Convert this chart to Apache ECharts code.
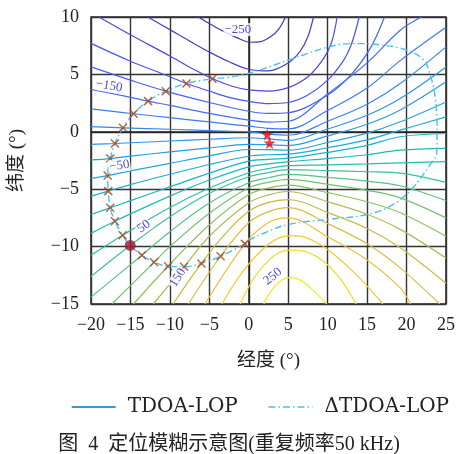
<!DOCTYPE html>
<html>
<head>
<meta charset="utf-8">
<script src="https://cdn.jsdelivr.net/npm/echarts@6/dist/echarts.min.js"></script>
<style>
  html, body { margin: 0; padding: 0; background: #fff; }
  #chart { width: 458px; height: 454px; }
</style>
</head>
<body>
<div id="chart"></div>
<script>
const levels = [-250, -230, -210, -190, -170, -150, -130, -110, -90, -70, -50, -30, -10,
                10, 30, 50, 70, 90, 110, 130, 150, 170, 190, 210, 230, 250];

const tdoaM250 = [[-6.5,10.05],[-4.8,9.35],[-3.2,8.75],[-1.5,8.2],[0.2,7.8],[1.5,7.85],[2.8,8.3],[3.8,8.95],[4.6,9.9],[4.75,10.1]];
const tdoaM230 = [[-12.8,10],[-10,8.9],[-7.5,7.9],[-5,6.95],[-2.5,6.1],[0,5.45],[2.5,5.3],[5,6.0],[6.5,7.0],[7.5,8.3],[8.2,10]];
const tdoaM210 = [[-19,10],[-15,8.45],[-10,6.6],[-7,5.45],[-4.6,4.62],[-2,3.95],[0,3.65],[2.5,3.55],[5,3.85],[7.5,4.8],[9.5,6.4],[10.5,7.8],[11.2,10]];
const tdoaM190 = [[-20,7.7],[-15,6.15],[-10,4.8],[-7.9,4.21],[-5,3.55],[-2.5,3.0],[0,2.65],[2.5,2.45],[5,2.55],[7.5,3.2],[10,4.5],[12,6.2],[13,7.6],[14,10]];
const tdoaM170 = [[-20,5.65],[-15,4.5],[-10.52,3.54],[-5,2.55],[0,1.79],[2.5,1.6],[5,1.66],[10,3.2],[13,5.0],[15.5,7.4],[17.2,10]];
const tdoaM150 = [[-20,3.7],[-16,3.15],[-12.76,2.67],[-10,2.3],[-5,1.6],[0,1.01],[2.5,0.85],[5,0.92],[10,3.3],[15,6.0],[19.2,8.85],[21.9,10]];
const tdoaM130 = [[-20,2.0],[-14.6,1.57],[-10,1.23],[-5,0.86],[0,0.49],[2.5,0.3],[5,0.25],[10,1.86],[15,3.82],[19.2,6.2],[25,9.1]];
const tdoaM110 = [[-20,0.45],[-15.95,0.35],[-10,0.22],[-5,0.1],[0,0],[2.5,-0.2],[5,-0.3],[10,0.92],[15,2.4],[19.2,4.2],[25,7.4]];
const tdoaM90  = [[-20,-1.1],[-16.97,-1.02],[-10,-0.8],[-5,-0.65],[0,-0.52],[2.5,-0.62],[5,-0.75],[10,0.24],[15,1.44],[19.2,2.9],[25,5.65]];
const tdoaM70  = [[-20,-2.45],[-17.56,-2.33],[-15,-2.12],[-10,-1.75],[-5,-1.4],[0,-1.1],[2.5,-1.12],[5,-1.2],[10,-0.36],[15,0.66],[19.2,1.9],[25,4.35]];
const tdoaM50  = [[-20,-4.06],[-17.89,-3.81],[-15,-3.4],[-10,-2.75],[-5,-2.1],[0,-1.54],[2.5,-1.55],[5,-1.6],[10,-0.93],[15,-0.12],[19.2,0.87],[25,2.6]];
const tdoaM30  = [[-20,-5.6],[-17.81,-5.17],[-15,-4.6],[-10,-3.7],[-5,-2.85],[0,-2.13],[2.5,-2.0],[5,-1.95],[10,-1.39],[15,-0.7],[19.2,0.14],[25,1.3]];
const tdoaM10  = [[-20,-7.2],[-17.56,-6.62],[-15,-6.0],[-10,-4.8],[-5,-3.6],[0,-2.56],[2.5,-2.4],[5,-2.3],[10,-1.8],[15,-1.18],[19.2,-0.43],[25,-0.15]];
const tdoaP10  = [[-20,-8.85],[-16.97,-7.79],[-15,-7.15],[-10,-5.6],[-5,-4.2],[0,-3.05],[2.5,-2.8],[5,-2.6],[10,-2.33],[15,-2.0],[19.2,-1.6],[25,-1.45]];
const tdoaP30  = [[-20,-10.75],[-15.99,-9.01],[-10,-6.6],[-5,-4.9],[0,-3.57],[2.5,-3.2],[5,-2.95],[10,-2.88],[15,-2.8],[19.2,-2.7],[25,-2.6]];
const tdoaP50  = [[-20,-12.6],[-15.03,-9.9],[-10,-7.4],[-5,-5.35],[0,-3.92],[2.5,-3.55],[5,-3.3],[10,-3.38],[15,-3.48],[19.2,-3.6],[25,-4.4]];
const tdoaP70  = [[-20,-14.4],[-13.55,-10.75],[-10,-8.7],[-5,-6.2],[0,-4.44],[2.5,-4.0],[5,-3.7],[10,-3.97],[15,-4.3],[19.2,-4.7],[25,-6.0]];
const tdoaP90  = [[-17.35,-15],[-12,-11.36],[-10,-10.0],[-5,-7.1],[0,-4.88],[2.5,-4.4],[5,-4.15],[10,-4.58],[15,-5.1],[19.2,-5.75],[25,-7.5]];
const tdoaP110 = [[-14.6,-15],[-10.23,-11.71],[-5,-8.1],[0,-5.46],[2.5,-4.9],[5,-4.65],[10,-5.3],[15,-6.09],[19.2,-7.05],[25,-9.1]];
const tdoaP130 = [[-12.1,-15],[-8.2,-11.76],[-5,-9.1],[0,-6.18],[2.5,-5.5],[5,-5.2],[10,-6.09],[15,-7.18],[19.2,-8.5],[25,-11.0]];
const tdoaP150 = [[-9.6,-15],[-6,-11.47],[-3,-8.9],[0,-6.92],[2.5,-6.15],[5,-5.9],[10,-7.03],[15,-8.42],[19.2,-10.1],[25,-13.2]];
const tdoaP170 = [[-7.65,-15],[-3.57,-10.84],[0,-7.9],[2.5,-6.95],[5,-6.6],[10,-8.0],[15,-9.75],[19.2,-11.85],[24.2,-15]];
const tdoaP190 = [[-5.55,-15],[-0.49,-9.76],[2.5,-7.9],[5,-7.5],[10,-9.15],[15,-11.16],[19.2,-13.6],[20.5,-15]];
const tdoaP210 = [[-3.4,-15],[-1,-12.4],[1.5,-10.4],[4,-9.2],[6,-9.05],[8.5,-9.6],[11,-10.8],[14,-12.7],[17,-15]];
const tdoaP230 = [[-1.1,-15],[0.8,-12.6],[3,-10.9],[5,-10.3],[7,-10.4],[9.5,-11.3],[11.7,-12.9],[13.6,-15]];
const tdoaP250 = [[1.9,-15],[2.9,-13.8],[4,-13.0],[5.2,-12.7],[6.5,-12.9],[8,-13.7],[9.9,-15]];

// ΔTDOA line of position (closed loop) [lon, lat]
const deltaTdoaLoop = [[-0.49,-9.76],[-3.57,-10.84],[-6.0,-11.47],[-8.2,-11.76],[-10.23,-11.71],[-12.0,-11.36],
  [-13.55,-10.75],[-15.03,-9.9],[-15.99,-9.01],[-16.97,-7.79],[-17.56,-6.62],[-17.81,-5.17],[-17.89,-3.81],
  [-17.56,-2.33],[-16.97,-1.02],[-15.95,0.35],[-14.6,1.57],[-12.76,2.67],[-10.52,3.54],[-7.9,4.21],[-4.61,4.62],
  [-2.72,4.73],[0.23,5.14],[5.28,6.3],[10.34,7.43],[13.5,7.69],[16.28,7.6],[19.82,7.17],[22.1,6.3],[22.98,4.99],
  [23.61,3.08],[23.86,0.64],[23.83,-1.8],[22.98,-2.85],[20.83,-4.85],[18.31,-6.33],[15.02,-7.2],[10.09,-7.63],
  [5.03,-8.07],[2.12,-8.77],[0.23,-9.38],[-0.49,-9.76]];

// ambiguous positions where the ΔTDOA loop meets the TDOA lines
const ambiguityPoints = [[-4.61,4.62],[-7.9,4.21],[-10.52,3.54],[-12.76,2.67],[-14.6,1.57],[-15.95,0.35],
  [-16.97,-1.02],[-17.56,-2.33],[-17.89,-3.81],[-17.81,-5.17],[-17.56,-6.62],[-16.97,-7.79],[-15.99,-9.01],
  [-13.55,-10.75],[-12.0,-11.36],[-10.23,-11.71],[-8.2,-11.76],[-6.0,-11.47],[-3.57,-10.84],[-0.49,-9.76]];
const truePosition = [[-15.03,-9.9]];
const stationPoints = [[2.34,-0.24],[2.63,-0.97]];

// inline contour labels: [lon, lat, text]
const contourLabels = [[-1.4,8.9,'\u2212250'],[-17.7,4.0,'\u2212150'],[-16.4,-2.95,'\u221250'],
  [-13.3,-8.25,'50'],[-9.0,-12.7,'150'],[3.05,-12.6,'250']];
const contourLabelAngles = [0, -10, 8, 35, 58, 40];

const xTicks = [-20, -15, -10, -5, 0, 5, 10, 15, 20, 25];
const yTicks = [-15, -10, -5, 0, 5, 10];

const contourLines = [tdoaM250, tdoaM230, tdoaM210, tdoaM190, tdoaM170, tdoaM150, tdoaM130, tdoaM110,
  tdoaM90, tdoaM70, tdoaM50, tdoaM30, tdoaM10, tdoaP10, tdoaP30, tdoaP50, tdoaP70, tdoaP90, tdoaP110,
  tdoaP130, tdoaP150, tdoaP170, tdoaP190, tdoaP210, tdoaP230, tdoaP250];

// parula-like colour ramp
const ramp = [[72,52,180],[76,80,232],[66,110,250],[48,142,240],[28,168,220],[20,184,196],
              [56,194,156],[128,194,104],[196,188,66],[248,190,60],[244,236,30]];
function rampColor(t) {
  const p = t * (ramp.length - 1);
  const i = Math.min(Math.floor(p), ramp.length - 2);
  const f = p - i;
  const c = ramp[i].map((v, k) => Math.round(v + (ramp[i + 1][k] - v) * f));
  return 'rgb(' + c.join(',') + ')';
}

const serif = 'Liberation Serif, DejaVu Serif, Noto Sans CJK SC, serif';
const minus = v => String(v).replace('-', '\u2212');

const series = [];
contourLines.forEach((pts, i) => {
  const t = (levels[i] - levels[0]) / (levels[levels.length - 1] - levels[0]);
  series.push({
    name: 'TDOA-LOP', type: 'line', data: pts, smooth: 0.35, symbol: 'none', silent: true,
    lineStyle: { color: rampColor(t), width: 1.2 }, itemStyle: { color: '#0072BD' }, z: 2
  });
});
series.push({
  name: '\u0394TDOA-LOP', type: 'line', data: deltaTdoaLoop, smooth: 0.4, symbol: 'none', silent: true,
  lineStyle: { color: '#4DBEEE', width: 1.4, type: [7, 3, 1.5, 3] }, itemStyle: { color: '#4DBEEE' }, z: 3
});
series.push({
  type: 'scatter', data: ambiguityPoints, silent: true, z: 4,
  symbol: 'path://M0,0L10,10M10,0L0,10', symbolSize: 8,
  itemStyle: { color: 'none', borderColor: '#A4431C', borderWidth: 1.5 }
});
series.push({
  type: 'scatter', data: truePosition, silent: true, z: 5, symbol: 'circle', symbolSize: 11,
  itemStyle: { color: '#A2142F' }
});
series.push({
  type: 'scatter', data: stationPoints, silent: true, z: 5, symbol: 'path://M50,0L61,35L98,35L68,57L79,91L50,70L21,91L32,57L2,35L39,35Z',
  symbolSize: 12, itemStyle: { color: '#FF0000' }
});
series.push({
  type: 'scatter', silent: true, z: 6, symbolSize: 2, itemStyle: { color: 'rgba(255,255,255,0)' },
  data: contourLabels.map((d, i) => ({ value: [d[0], d[1]], name: d[2], label: { rotate: contourLabelAngles[i] } })),
  label: {
    show: true, position: 'inside', formatter: p => p.name,
    color: '#2020C8', fontFamily: serif, fontSize: 13, backgroundColor: '#fff', padding: [0, 1]
  },
  labelLayout: { hideOverlap: false }
});

const legendFont = 'DejaVu Serif, Liberation Serif, serif';

const chart = echarts.init(document.getElementById('chart'), null, { renderer: 'canvas' });
chart.setOption({
  animation: false,
  backgroundColor: '#fff',
  title: {
    text: '图\u20024\u2002定位模糊示意图(重复频率50 kHz)', left: 'center', top: 430,
    textStyle: { fontFamily: serif, fontSize: 20, fontWeight: 'normal', color: '#222' }
  },
  legend: {
    top: 392, left: 66, itemWidth: 44, itemHeight: 12, itemGap: 30,
    textStyle: { fontFamily: legendFont, fontSize: 20, color: '#222', padding: [0, 0, 0, 7] },
    data: [
      { name: 'TDOA-LOP', itemStyle: { opacity: 0 }, lineStyle: { color: '#0072BD', width: 1.4 } },
      { name: '\u0394TDOA-LOP', itemStyle: { opacity: 0 }, lineStyle: { color: '#4DBEEE', width: 1.4, type: [7, 3, 1.5, 3] } }
    ]
  },
  grid: { left: 90, right: 12, top: 17, bottom: 150, show: true, borderColor: '#222', borderWidth: 1.5, backgroundColor: 'transparent' },
  xAxis: {
    type: 'value', min: xTicks[0], max: xTicks[xTicks.length - 1], interval: 5,
    name: '经度 (°)', nameLocation: 'middle', nameGap: 48,
    nameTextStyle: { fontFamily: serif, fontSize: 19, color: '#222' },
    axisLine: { show: true, lineStyle: { color: '#222', width: 1.5 } },
    axisTick: { show: false },
    axisLabel: { margin: 12, fontFamily: serif, fontSize: 18, color: '#222', formatter: minus },
    splitLine: { show: true, lineStyle: { color: '#333', width: 1.4 } }
  },
  yAxis: {
    type: 'value', min: yTicks[0], max: yTicks[yTicks.length - 1], interval: 5,
    name: '纬度 (°)', nameLocation: 'middle', nameGap: 64, nameRotate: 90,
    nameTextStyle: { fontFamily: serif, fontSize: 19, color: '#222' },
    axisLine: { show: true, lineStyle: { color: '#222', width: 1.5 } },
    axisTick: { show: false },
    axisLabel: { margin: 12, fontFamily: serif, fontSize: 18, color: '#222', formatter: minus },
    splitLine: { show: true, lineStyle: { color: '#333', width: 1.4 } }
  },
  series: series
});
</script>
</body>
</html>
